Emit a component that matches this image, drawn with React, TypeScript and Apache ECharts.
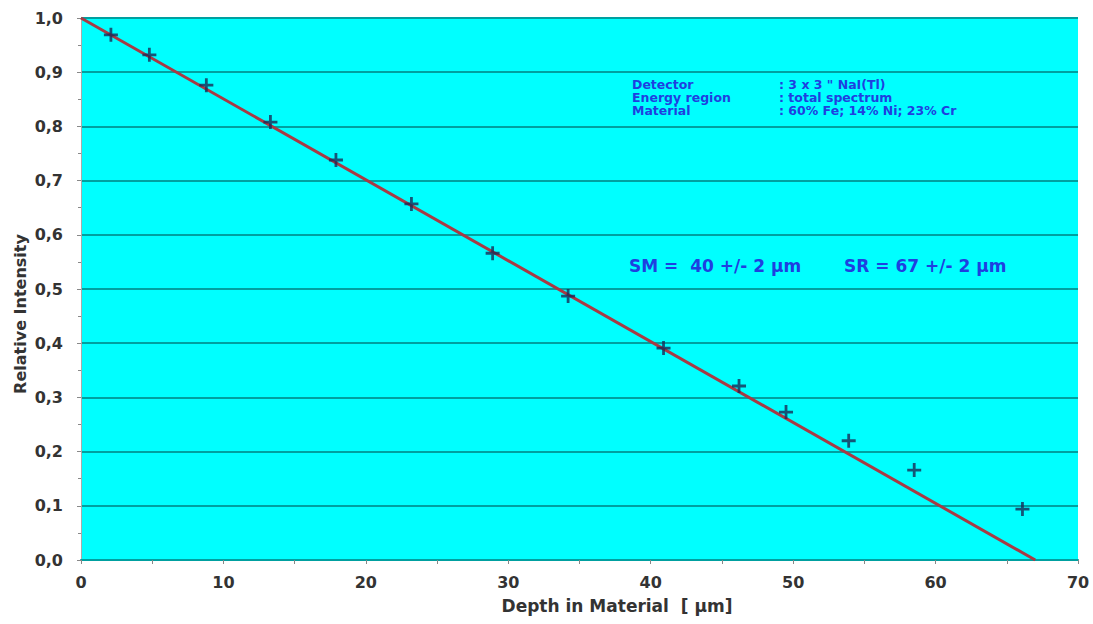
import React, { useEffect, useRef } from "react";
import * as echarts from "echarts";

const depth = [2.1, 4.8, 8.8, 13.3, 17.9, 23.2, 28.9, 34.2, 40.9, 46.2, 49.5, 53.9, 58.5, 66.1];
const intensity = [0.969, 0.932, 0.876, 0.808, 0.738, 0.657, 0.566, 0.487, 0.391, 0.321, 0.273, 0.220, 0.166, 0.094];
const fitLine = [[0, 1.0], [67, 0.0]];
const infoLabels = ["Detector", "Energy region", "Material"];
const infoValues = [': 3 x 3 " NaI(Tl)', ": total spectrum", ": 60% Fe; 14% Ni; 23% Cr"];
const smText = "SM =  40 +/- 2 µm";
const srText = "SR = 67 +/- 2 µm";
const xTitle = "Depth in Material  [ µm]";
const yTitle = "Relative Intensity";

const PLUS = "path://M4,0H6V4H10V6H6V10H4V6H0V4H4Z";

export default function App() {
  const ref = useRef<HTMLDivElement>(null);
  useEffect(() => {
    if (!ref.current) return;
    const chart = echarts.init(ref.current, null, { renderer: "svg" });
    const font = "'DejaVu Sans', Verdana, sans-serif";
    const blue = "#1f3fe0";
    const labelColor = "#333333";
    chart.setOption({
      animation: false,
      backgroundColor: "#ffffff",
      grid: {
        left: 81,
        top: 18,
        width: 997,
        height: 542,
        show: true,
        backgroundColor: "#00ffff",
        borderWidth: 0,
      },
      xAxis: {
        type: "value",
        min: 0,
        max: 70,
        interval: 10,
        axisLine: { show: true, lineStyle: { color: "#00a0a0", width: 2 } },
        axisTick: { show: true, length: 4, lineStyle: { color: "#888" } },
        minorTick: { show: true, splitNumber: 2, length: 4, lineStyle: { color: "#888" } },
        axisLabel: { fontFamily: font, fontWeight: "bold", fontSize: 16, color: labelColor, margin: 14 },
        splitLine: { show: false },
      },
      yAxis: {
        type: "value",
        min: 0,
        max: 1,
        interval: 0.1,
        axisLine: { show: true, lineStyle: { color: "#aaaaaa", width: 1 } },
        axisTick: { show: true, length: 4, lineStyle: { color: "#888" } },
        minorTick: { show: true, splitNumber: 2, length: 3, lineStyle: { color: "#888" } },
        axisLabel: {
          fontFamily: font,
          fontWeight: "bold",
          fontSize: 16,
          color: labelColor,
          margin: 18,
          formatter: (v: number) => v.toFixed(1).replace(".", ","),
        },
        splitLine: { show: true, lineStyle: { color: "#00a0a0", width: 2 } },
      },
      series: [
        {
          type: "line",
          data: fitLine,
          symbol: "none",
          lineStyle: { color: "#a83a44", width: 3 },
          z: 2,
        },
        {
          type: "scatter",
          data: depth.map((d, i) => [d, intensity[i]]),
          symbol: PLUS,
          symbolSize: 14,
          itemStyle: { color: "#1a2a55" },
          z: 3,
        },
      ],
      graphic: [
        {
          type: "text",
          x: 617,
          y: 606,
          style: {
            text: xTitle,
            fill: labelColor,
            font: `bold 17px ${font}`,
            align: "center",
            verticalAlign: "middle",
          },
        },
        {
          type: "text",
          x: 20,
          y: 314,
          rotation: Math.PI / 2,
          style: {
            text: yTitle,
            fill: labelColor,
            font: `bold 16px ${font}`,
            align: "center",
            verticalAlign: "middle",
          },
        },
        ...infoLabels.map((t, i) => ({
          type: "text",
          x: 632,
          y: 84 + i * 13,
          style: { text: t, fill: blue, font: `bold 12.5px ${font}`, verticalAlign: "middle" },
        })),
        ...infoValues.map((t, i) => ({
          type: "text",
          x: 779,
          y: 84 + i * 13,
          style: { text: t, fill: blue, font: `bold 12.5px ${font}`, verticalAlign: "middle" },
        })),
        {
          type: "text",
          x: 629,
          y: 266,
          style: { text: smText, fill: blue, font: `bold 17px ${font}`, verticalAlign: "middle" },
        },
        {
          type: "text",
          x: 844,
          y: 266,
          style: { text: srText, fill: blue, font: `bold 17px ${font}`, verticalAlign: "middle" },
        },
      ],
    });
    return () => chart.dispose();
  }, []);
  return (
    <div
      ref={ref}
      style={{ position: "absolute", left: 0, top: 0, width: 1093, height: 624 }}
    />
  );
}
